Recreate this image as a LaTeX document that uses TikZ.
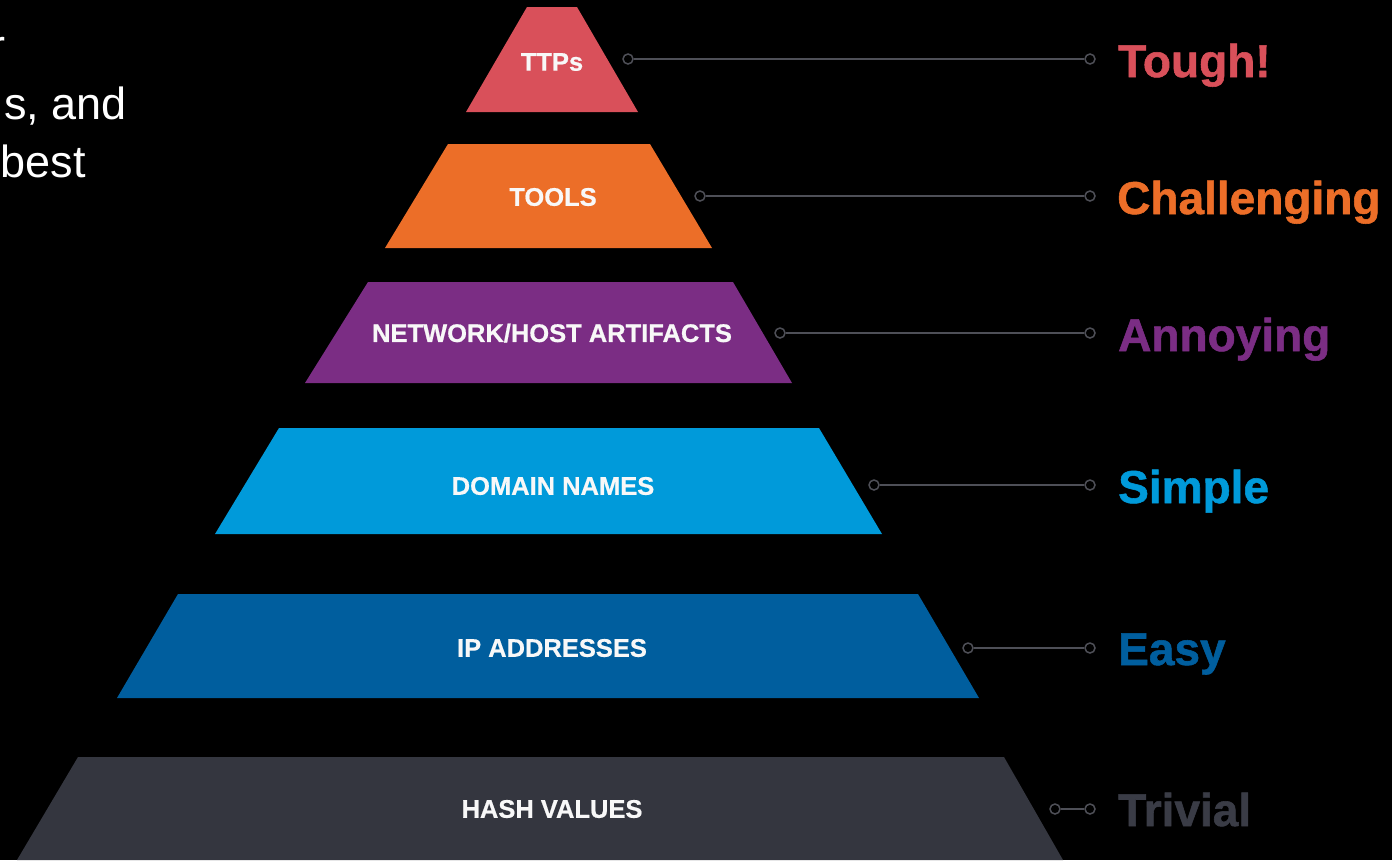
\documentclass[tikz,border=0pt]{standalone}
\usepackage{fontspec}
\setmainfont{Liberation Sans}
\newfontface\heavyface[FakeBold=1.2]{Liberation Sans Bold}
\newfontface\tierface[FakeBold=0.6]{Liberation Sans Bold}
\definecolor{ttpred}{HTML}{D9505A}
\definecolor{toolorange}{HTML}{EC6E28}
\definecolor{artpurple}{HTML}{7B2D84}
\definecolor{domblue}{HTML}{009ADA}
\definecolor{ipblue}{HTML}{005E9E}
\definecolor{hashgray}{HTML}{34363F}
\definecolor{trivgray}{HTML}{3A3C46}
\definecolor{linkgray}{HTML}{4E4F57}
\definecolor{labelwhite}{HTML}{F8F8F8}
\begin{document}
\begin{tikzpicture}[x=1pt,y=-1pt,
  tierlabel/.style={text=labelwhite,font=\tierface\fontsize{25.5}{30}\selectfont,inner sep=0},
  dot/.style={circle,draw=linkgray,fill=black,line width=1.5pt,minimum size=10pt,inner sep=0},
  link/.style={draw=linkgray,line width=1.8pt},
  level/.style={font=\heavyface\fontsize{46}{55}\selectfont,anchor=base west,inner sep=0,text=#1},
  intro/.style={text=white,font=\fontsize{45}{52}\selectfont,anchor=base east,inner sep=0},
]
% page and background
\useasboundingbox (0,0) rectangle (1392,860);
\fill[black] (0,0) rectangle (1392,860);
\clip (0,0) rectangle (1392,860);

% introductory text, running in from the left edge
\node[intro] (introa) at (6,61) {r};
\node[intro] (introb) at (127,119) {s, and};
\node[intro] (introc) at (86,177) {best};

% pyramid tiers
\fill[ttpred]     (527,7)   -- (577,7)   -- (638,112) -- (466,112) -- cycle;
\fill[toolorange] (448,144) -- (650,144) -- (712,248) -- (385,248) -- cycle;
\fill[artpurple]  (368,282) -- (733,282) -- (792,383) -- (305,383) -- cycle;
\fill[domblue]    (279,428) -- (819,428) -- (882,534) -- (215,534) -- cycle;
\fill[ipblue]     (178,594) -- (918,594) -- (979,698) -- (117,698) -- cycle;
\fill[hashgray]   (78,757)  -- (1004,757) -- (1063,860) -- (17,860) -- cycle;

% tier names
\node[tierlabel] (ttps)    at (552,62)  {TTPs};
\node[tierlabel] (tools)   at (553,197) {TOOLS};
\node[tierlabel] (arts)    at (552,333) {NETWORK/HOST ARTIFACTS};
\node[tierlabel] (domains) at (553,486) {DOMAIN NAMES};
\node[tierlabel] (ips)     at (552,648) {IP ADDRESSES};
\node[tierlabel] (hashes)  at (552,809) {HASH VALUES};

% connector end points
\node[dot] (la) at (628,59)  {};  \node[dot] (ra) at (1090,59)  {};
\node[dot] (lb) at (700,196) {};  \node[dot] (rb) at (1090,196) {};
\node[dot] (lc) at (780,333) {};  \node[dot] (rc) at (1090,333) {};
\node[dot] (ld) at (874,485) {};  \node[dot] (rd) at (1090,485) {};
\node[dot] (le) at (968,648) {};  \node[dot] (re) at (1090,648) {};
\node[dot] (lf) at (1055,809) {}; \node[dot] (rf) at (1090,809) {};

\draw[link] (la) -- (ra);
\draw[link] (lb) -- (rb);
\draw[link] (lc) -- (rc);
\draw[link] (ld) -- (rd);
\draw[link] (le) -- (re);
\draw[link] (lf) -- (rf);

% difficulty levels
\node[level=ttpred]     (tough)       at (1118,77)  {Tough!};
\node[level=toolorange] (challenging) at (1117,214) {Challenging};
\node[level=artpurple]  (annoying)    at (1118,351) {Annoying};
\node[level=domblue]    (simple)      at (1118,503) {Simple};
\node[level=ipblue]     (easy)        at (1118,665) {Easy};
\node[level=trivgray]   (trivial)     at (1118,826) {Trivial};
\end{tikzpicture}
\end{document}
